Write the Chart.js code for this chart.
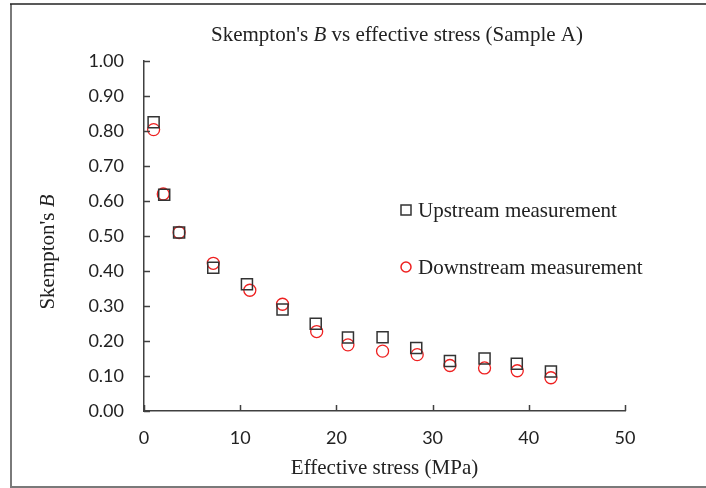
<!DOCTYPE html>
<html>
<head>
<meta charset="utf-8">
<script src="https://cdn.jsdelivr.net/npm/chart.js@4/dist/chart.umd.min.js"></script>
<style>
  html, body { margin: 0; padding: 0; background: #fff; }
  #wrap { width: 706px; height: 488px; position: relative; }
</style>
</head>
<body>
<div id="wrap"><canvas id="bChart" width="706" height="488"></canvas></div>
<script>
// values
const stressUp   = [1.0, 2.1, 3.65, 7.2, 10.7, 14.4, 17.85, 21.2, 24.8, 28.3, 31.8, 35.4, 38.75, 42.3];
const bUp        = [0.825, 0.618, 0.51, 0.409, 0.362, 0.29, 0.249, 0.21, 0.211, 0.18, 0.143, 0.15, 0.135, 0.113];
const stressDown = [1.0, 2.0, 3.65, 7.2, 11.0, 14.4, 17.95, 21.2, 24.8, 28.4, 31.8, 35.4, 38.8, 42.3];
const bDown      = [0.804, 0.62, 0.51, 0.422, 0.345, 0.305, 0.227, 0.189, 0.171, 0.161, 0.13, 0.123, 0.115, 0.095];
const seriesNames = ['Upstream measurement', 'Downstream measurement'];
const xTicks = [0, 10, 20, 30, 40, 50];
const yTicks = [0, 0.1, 0.2, 0.3, 0.4, 0.5, 0.6, 0.7, 0.8, 0.9, 1.0];

const serif = '"Liberation Serif", "Times New Roman", serif';
const sans = 'Lato, "Liberation Sans", sans-serif';
const axisColor = '#404040';

function toPoints(xs, ys) {
    return xs.map((x, i) => ({ x: x, y: ys[i] }));
}

// draws runs of text where some parts are italic
function drawRuns(ctx, runs, size, x, y, align) {
    let total = 0;
    runs.forEach(r => {
        ctx.font = (r.italic ? 'italic ' : '') + size + 'px ' + serif;
        r.w = ctx.measureText(r.text).width;
        total += r.w;
    });
    let cx = align === 'center' ? x - total / 2 : x;
    runs.forEach(r => {
        ctx.font = (r.italic ? 'italic ' : '') + size + 'px ' + serif;
        ctx.fillText(r.text, cx, y);
        cx += r.w;
    });
}

const decorPlugin = {
    id: 'decor',
    beforeDraw(chart) {
        const ctx = chart.ctx;
        ctx.save();
        ctx.fillStyle = '#fff';
        ctx.fillRect(0, 0, chart.width, chart.height);
        // outer frame
        ctx.strokeStyle = '#7a7a7a';
        ctx.lineWidth = 2;
        ctx.beginPath();
        ctx.moveTo(11, 490);
        ctx.lineTo(11, 4);
        ctx.stroke();
        ctx.beginPath();
        ctx.moveTo(10, 487);
        ctx.lineTo(710, 487);
        ctx.stroke();
        ctx.strokeStyle = '#222';
        ctx.lineWidth = 1.5;
        ctx.beginPath();
        ctx.moveTo(10, 4);
        ctx.lineTo(710, 4);
        ctx.stroke();
        ctx.restore();
    },
    afterDraw(chart) {
        const ctx = chart.ctx;
        const xs = chart.scales.x, ys = chart.scales.y;
        const area = chart.chartArea;
        ctx.save();
        // inward tick marks
        ctx.strokeStyle = axisColor;
        ctx.lineWidth = 1.5;
        ctx.beginPath();
        yTicks.forEach(v => {
            const py = Math.round(ys.getPixelForValue(v)) + 0.5;
            ctx.moveTo(area.left, py);
            ctx.lineTo(area.left + 6, py);
        });
        xTicks.forEach(v => {
            const px = Math.round(xs.getPixelForValue(v)) + 0.5;
            ctx.moveTo(px, area.bottom);
            ctx.lineTo(px, area.bottom - 6);
        });
        ctx.stroke();

        ctx.fillStyle = '#222';
        ctx.textBaseline = 'middle';
        ctx.textAlign = 'left';
        // title
        drawRuns(ctx, [
            { text: "Skempton's " },
            { text: 'B', italic: true },
            { text: ' vs effective stress (Sample A)' }
        ], 21, 397, 35, 'center');
        // x title
        drawRuns(ctx, [{ text: 'Effective stress (MPa)' }], 21, (area.left + area.right) / 2, 468, 'center');
        // y title
        ctx.save();
        ctx.translate(48, 252);
        ctx.rotate(-Math.PI / 2);
        drawRuns(ctx, [
            { text: "Skempton's " },
            { text: 'B', italic: true }
        ], 21, 0, 0, 'center');
        ctx.restore();

        // legend
        const lx = 406;
        const rows = [210, 267];
        chart.data.datasets.forEach((ds, i) => {
            const ly = rows[i];
            ctx.strokeStyle = ds.borderColor;
            ctx.lineWidth = 1.5;
            ctx.beginPath();
            if (ds.pointStyle === 'rect') {
                ctx.rect(lx - 5, ly - 5, 10, 10);
            } else {
                ctx.arc(lx, ly, 5, 0, Math.PI * 2);
            }
            ctx.stroke();
            ctx.fillStyle = '#222';
            drawRuns(ctx, [{ text: ds.label }], 21, lx + 12, ly + 1, 'left');
        });
        ctx.restore();
    }
};

const chartConfig = {
    type: 'scatter',
    data: {
        datasets: [
            {
                label: seriesNames[0],
                data: toPoints(stressUp, bUp),
                pointStyle: 'rect',
                pointRadius: 7.8,
                pointHoverRadius: 7.8,
                borderColor: '#333',
                backgroundColor: 'rgba(0,0,0,0)',
                pointBorderWidth: 1.5
            },
            {
                label: seriesNames[1],
                data: toPoints(stressDown, bDown),
                pointStyle: 'circle',
                pointRadius: 6,
                pointHoverRadius: 6,
                borderColor: '#ee2020',
                backgroundColor: 'rgba(0,0,0,0)',
                pointBorderWidth: 1.3
            }
        ]
    },
    options: {
        responsive: false,
        animation: false,
        events: [],
        layout: {
            padding: { top: 61, right: 81, bottom: 0, left: 0 }
        },
        plugins: {
            legend: { display: false },
            title: { display: false },
            tooltip: { enabled: false }
        },
        scales: {
            x: {
                type: 'linear',
                min: 0,
                max: 50,
                afterBuildTicks: scale => {
                    scale.ticks = xTicks.map(v => ({ value: v }));
                },
                afterFit: scale => { scale.height = 77; },
                grid: { display: false, drawTicks: false },
                border: { display: true, color: axisColor, width: 1.5 },
                ticks: {
                    padding: 16,
                    color: '#222',
                    font: { family: sans, size: 18 }
                }
            },
            y: {
                type: 'linear',
                min: 0,
                max: 1,
                afterBuildTicks: scale => {
                    scale.ticks = yTicks.map(v => ({ value: v }));
                },
                afterFit: scale => { scale.width = 144; },
                grid: { display: false, drawTicks: false },
                border: { display: true, color: axisColor, width: 1.5 },
                ticks: {
                    padding: 20,
                    color: '#222',
                    font: { family: sans, size: 18 },
                    callback: v => v.toFixed(2)
                }
            }
        }
    },
    plugins: [decorPlugin]
};

new Chart(document.getElementById('bChart'), chartConfig);
</script>
</body>
</html>
